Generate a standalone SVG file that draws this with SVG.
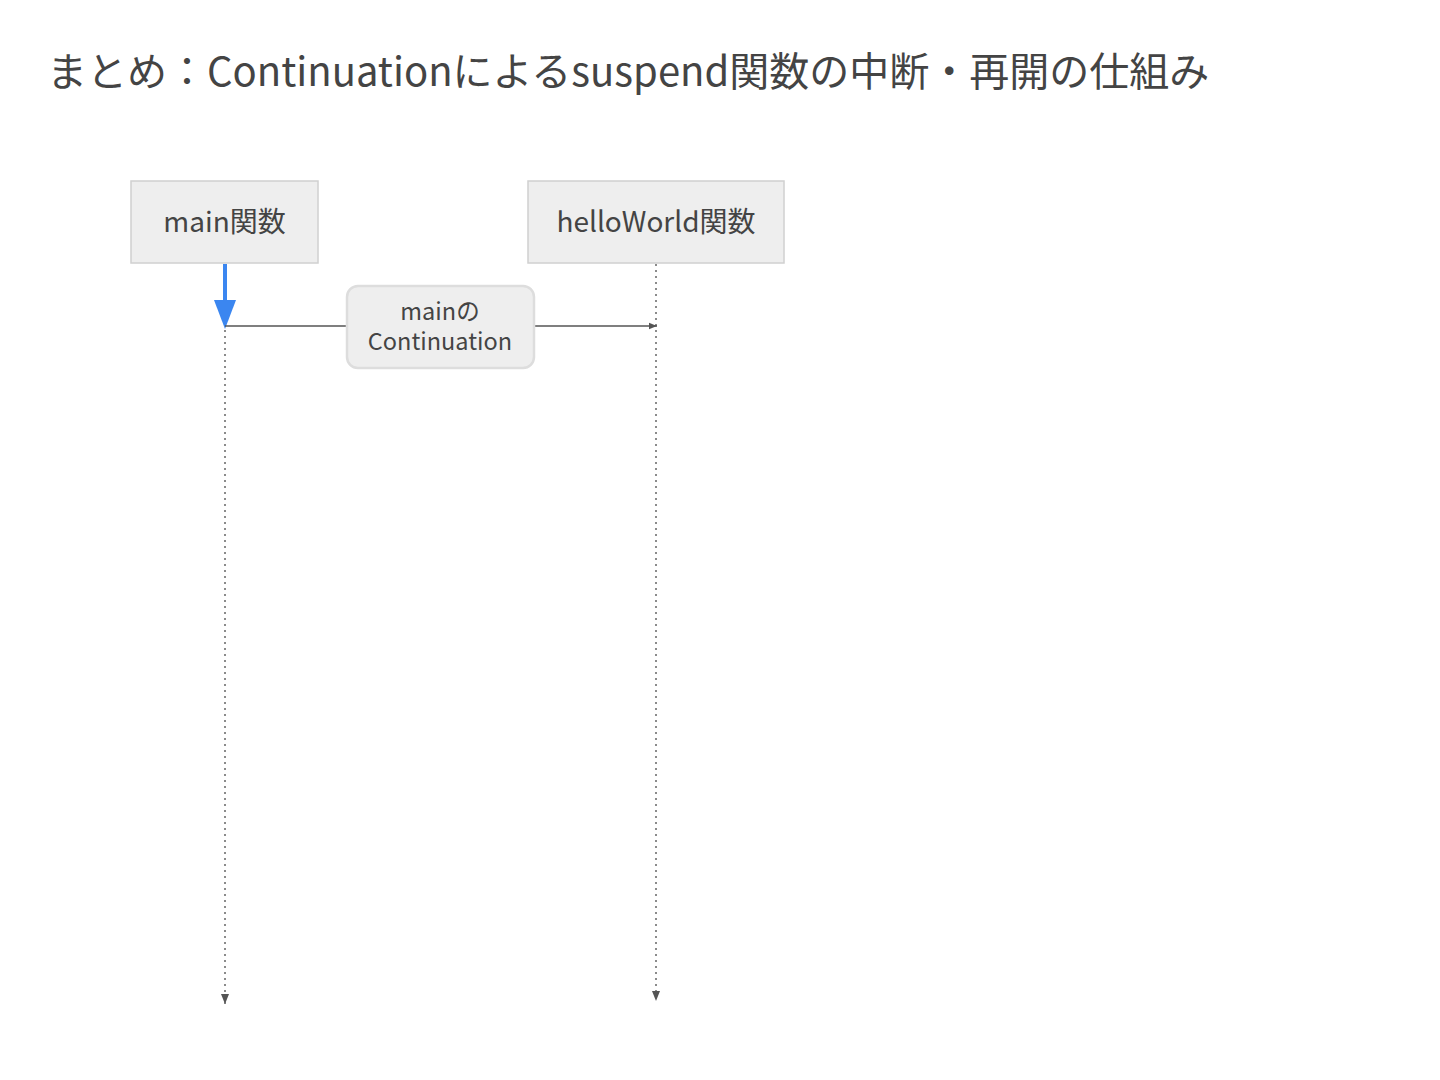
<svg xmlns="http://www.w3.org/2000/svg" width="1440" height="1080" viewBox="0 0 1440 1080">
<style>
text{font-family:"Noto Sans CJK JP","Noto Sans",sans-serif;fill:#444}
.actor{fill:#eeeeee;stroke:#d0d0d0;stroke-width:1.5}
.life{stroke:#666;stroke-width:1.5;stroke-dasharray:2 4;fill:none}
.msg{stroke:#555;stroke-width:1.5;fill:none}
.lbl{fill:#eeeeee;stroke:#dddddd;stroke-width:2.5}
</style>
<defs>
<marker id="ah" viewBox="0 0 10 10" refX="10" refY="5" markerWidth="8" markerHeight="8" markerUnits="userSpaceOnUse" orient="auto"><path d="M0,1 L10,5 L0,9 z" fill="#555"/></marker>
<marker id="ahl" viewBox="0 0 10 10" refX="10" refY="5" markerWidth="10" markerHeight="10" markerUnits="userSpaceOnUse" orient="auto"><path d="M0,1 L10,5 L0,9 z" fill="#555"/></marker>
</defs>
<text x="47" y="86" font-size="40">まとめ：Continuationによるsuspend関数の中断・再開の仕組み</text>
<g id="connectors">
<line class="life" x1="225" y1="264" x2="225" y2="1004" marker-end="url(#ahl)"/>
<line class="life" x1="656" y1="264" x2="656" y2="1001" marker-end="url(#ahl)"/>
<line x1="225" y1="264" x2="225" y2="302" stroke="#3b86f0" stroke-width="4"/>
<path d="M214,300 L236,300 L225,329 z" fill="#3b86f0"/>
<line class="msg" x1="225" y1="326" x2="657" y2="326" marker-end="url(#ah)"/>
<g id="msg-label">
<rect class="lbl" x="347" y="286" width="187" height="82" rx="11"/>
<text x="440" y="320" font-size="23.5" text-anchor="middle">mainの</text>
<text x="440" y="350" font-size="23.5" text-anchor="middle">Continuation</text>
</g>
</g>
<g id="main">
<rect class="actor" x="131" y="181" width="187" height="82"/>
<text x="224.5" y="232" font-size="28" text-anchor="middle">main関数</text>
</g>
<g id="helloWorld">
<rect class="actor" x="528" y="181" width="256" height="82"/>
<text x="656" y="232" font-size="28" text-anchor="middle">helloWorld関数</text>
</g>
</svg>
